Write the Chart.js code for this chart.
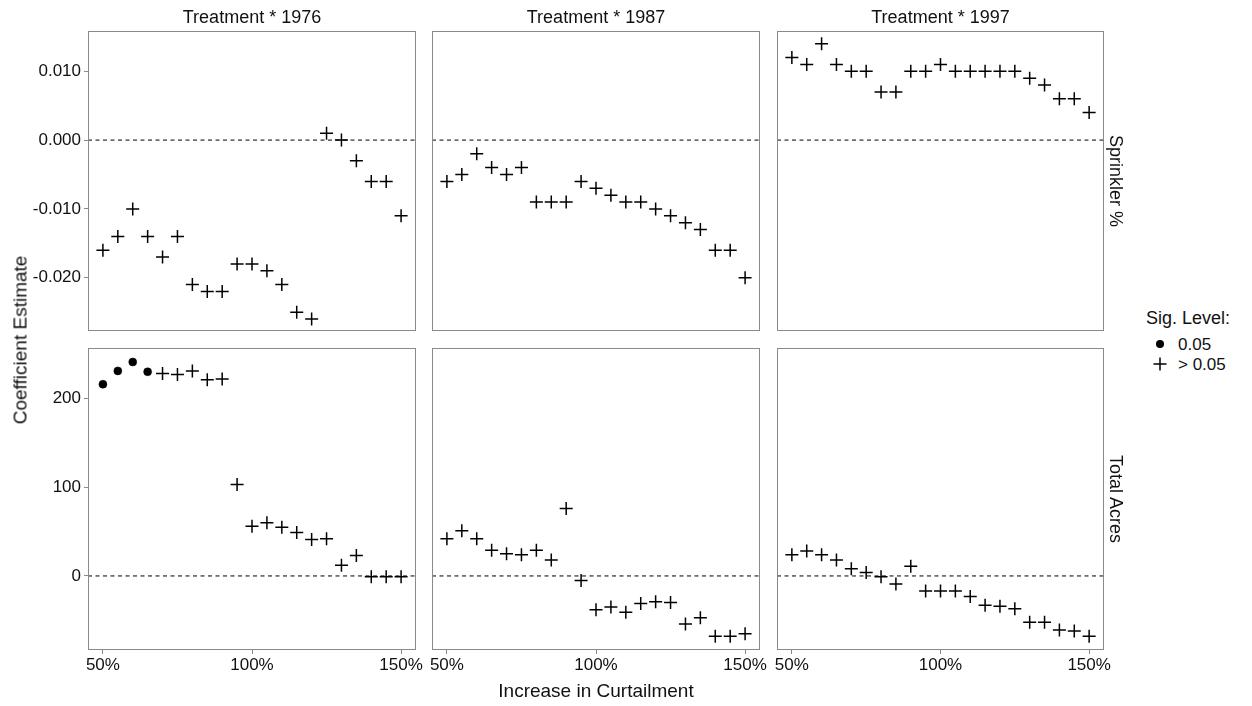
<!DOCTYPE html>
<html><head><meta charset="utf-8">
<script src="https://cdn.jsdelivr.net/npm/chart.js@4.4.1/dist/chart.umd.min.js"></script>
<style>
html,body{margin:0;padding:0;background:#fff;}
#wrap{position:relative;width:1252px;height:706px;overflow:hidden;font-family:"Liberation Sans",Arial,sans-serif;color:#111;}
canvas{position:absolute;}
.t{position:absolute;white-space:nowrap;transform:translate(-50%,-50%);line-height:1;}
.l{position:absolute;white-space:nowrap;transform:translateY(-50%);line-height:1;}
</style></head><body><div id="wrap"></div>
<script>
// ---------- data ----------
const curtailment = [50,55,60,65,70,75,80,85,90,95,100,105,110,115,120,125,130,135,140,145,150];
const treatmentYears = ['1976','1987','1997'];
const outcomes = ['Sprinkler %','Total Acres'];
const sprinkler1976 = [-0.016,-0.014,-0.010,-0.014,-0.017,-0.014,-0.021,-0.022,-0.022,-0.018,-0.018,-0.019,-0.021,-0.025,-0.026,0.001,0.000,-0.003,-0.006,-0.006,-0.011];
const sprinkler1987 = [-0.006,-0.005,-0.002,-0.004,-0.005,-0.004,-0.009,-0.009,-0.009,-0.006,-0.007,-0.008,-0.009,-0.009,-0.010,-0.011,-0.012,-0.013,-0.016,-0.016,-0.020];
const sprinkler1997 = [0.012,0.011,0.014,0.011,0.010,0.010,0.007,0.007,0.010,0.010,0.011,0.010,0.010,0.010,0.010,0.010,0.009,0.008,0.006,0.006,0.004];
const acres1976 = [216,231,241,230,228,227,231,221,222,103,56,60,55,49,41,42,12,23,-1,-1,-1];
const acres1987 = [42,51,42,29,25,24,29,18,76,-5,-38,-35,-41,-31,-29,-30,-54,-47,-68,-68,-65];
const acres1997 = [24,28,24,18,8,4,-1,-9,11,-17,-17,-17,-23,-33,-34,-37,-52,-52,-61,-62,-68];
const S = '0.05', N = '> 0.05';
const sigSprinkler1976 = [N,N,N,N,N,N,N,N,N,N,N,N,N,N,N,N,N,N,N,N,N];
const sigSprinkler1987 = [N,N,N,N,N,N,N,N,N,N,N,N,N,N,N,N,N,N,N,N,N];
const sigSprinkler1997 = [N,N,N,N,N,N,N,N,N,N,N,N,N,N,N,N,N,N,N,N,N];
const sigAcres1976 = [S,S,S,S,N,N,N,N,N,N,N,N,N,N,N,N,N,N,N,N,N];
const sigAcres1987 = [N,N,N,N,N,N,N,N,N,N,N,N,N,N,N,N,N,N,N,N,N];
const sigAcres1997 = [N,N,N,N,N,N,N,N,N,N,N,N,N,N,N,N,N,N,N,N,N];
const xTicks = [50,100,150];
const sprinklerTicks = [-0.020,-0.010,0.000,0.010];
const acresTicks = [0,100,200];

// ---------- layout ----------
const FONT = '"Liberation Sans", Arial, sans-serif';
const TXT = '#111';
const BORDER = '#8a8a8a';
const colLeft = [88,432,777];
const colWidth = [328,328,327];
const rowTop = [31,348];
const rowHeight = [300,302];
const xRange = {min:45,max:155};
const yRanges = [{min:-0.02774,max:0.01585},{min:-83.4,max:256.8}];
const PAD = 24, VPAD = 16;

const wrap = document.getElementById('wrap');
const framePlugin = {
  id:'frame',
  afterDraw(chart){
    const {ctx, chartArea:a} = chart;
    ctx.save();
    ctx.strokeStyle = BORDER; ctx.lineWidth = 1;
    ctx.strokeRect(a.left+0.5, a.top+0.5, a.right-a.left-1, a.bottom-a.top-1);
    ctx.restore();
  }
};

const rowData = [
  [sprinkler1976, sprinkler1987, sprinkler1997],
  [acres1976, acres1987, acres1997]
];
const rowSig = [
  [sigSprinkler1976, sigSprinkler1987, sigSprinkler1997],
  [sigAcres1976, sigAcres1987, sigAcres1997]
];
const rowTicks = [sprinklerTicks, acresTicks];

function fmtY(r, v){
  if (Math.abs(v) < 1e-12) v = 0;
  return r === 0 ? v.toFixed(3) : String(Math.round(v));
}

for (let r = 0; r < 2; r++) {
  for (let c = 0; c < 3; c++) {
    const isLeft = c === 0, isBottom = r === 1;
    const canvas = document.createElement('canvas');
    const cLeft = isLeft ? 0 : colLeft[c] - PAD;
    const cWidth = isLeft ? colLeft[0] + colWidth[0] + PAD : colWidth[c] + 2*PAD;
    const cTop = rowTop[r] - VPAD;
    const cHeight = VPAD + rowHeight[r] + (isBottom ? 30 : VPAD);
    canvas.width = cWidth; canvas.height = cHeight;
    canvas.style.left = cLeft + 'px'; canvas.style.top = cTop + 'px';
    canvas.style.width = cWidth + 'px'; canvas.style.height = cHeight + 'px';
    wrap.appendChild(canvas);
    const vals = rowData[r][c], sig = rowSig[r][c];
    const ticksWanted = rowTicks[r];
    new Chart(canvas, {
      type:'scatter',
      data:{datasets:[
        {type:'line', data:[{x:xRange.min,y:0},{x:xRange.max,y:0}], borderColor:'#000', borderWidth:1,
         borderDash:[4,3.5], pointRadius:0, fill:false, order:2},
        {data: curtailment.map((x,i)=>({x, y: vals[i]})),
         pointStyle: ctx => sig[ctx.dataIndex] === S ? 'circle' : 'cross',
         pointRadius: ctx => sig[ctx.dataIndex] === S ? 4 : 6.5,
         backgroundColor:'#000', borderColor:'#000',
         borderWidth: ctx => sig[ctx.dataIndex] === S ? 0.5 : 1.5, order:1}
      ]},
      options:{
        responsive:false, animation:false, devicePixelRatio:1,
        layout:{padding:{left: isLeft ? 0 : PAD, right: PAD, top:VPAD, bottom: isBottom ? 0 : VPAD}},
        plugins:{legend:{display:false}, tooltip:{enabled:false}},
        scales:{
          x:{type:'linear', min:xRange.min, max:xRange.max, display:isBottom,
             afterFit: s => { if (isBottom) s.height = 30; },
             afterBuildTicks: s => { s.ticks = xTicks.map(v=>({value:v})); },
             ticks:{callback: v => v + '%', font:{family:FONT,size:17}, color:TXT, padding:1, maxRotation:0, autoSkip:false},
             grid:{drawOnChartArea:false, drawTicks:true, tickLength:4, color:BORDER},
             border:{display:false}},
          y:{type:'linear', min:yRanges[r].min, max:yRanges[r].max, display:isLeft,
             afterFit: s => { if (isLeft) s.width = colLeft[0]; },
             afterBuildTicks: s => { s.ticks = ticksWanted.map(v=>({value:v})); },
             ticks:{callback: v => fmtY(r, v), font:{family:FONT,size:17}, color:TXT, padding:3, autoSkip:false},
             grid:{drawOnChartArea:false, drawTicks:true, tickLength:4, color:BORDER},
             border:{display:false}}
        }
      },
      plugins:[framePlugin]
    });
  }
}

// ---------- text ----------
function addText(txt, x, y, size, cls, rot){
  const d = document.createElement('div');
  d.className = cls || 't';
  d.textContent = txt;
  d.style.left = x + 'px'; d.style.top = y + 'px'; d.style.fontSize = size + 'px';
  if (rot) d.style.transform = 'translate(-50%,-50%) rotate(' + rot + 'deg)';
  wrap.appendChild(d);
}
for (let c = 0; c < 3; c++) addText('Treatment * ' + treatmentYears[c], colLeft[c] + colWidth[c]/2, 17, 18);
for (let r = 0; r < 2; r++) addText(outcomes[r], 1116, rowTop[r] + rowHeight[r]/2, 18, 't', 90);
addText('Coefficient Estimate', 20, 340, 19, 't', -90);
addText('Increase in Curtailment', 596, 690, 19);
addText('Sig. Level:', 1146, 318, 18, 'l');
addText(S, 1178, 344, 17, 'l');
addText(N, 1178, 364, 17, 'l');
// legend keys
const svgNS = 'http://www.w3.org/2000/svg';
const key = document.createElementNS(svgNS, 'svg');
key.setAttribute('width','30'); key.setAttribute('height','40');
key.style.position='absolute'; key.style.left='1145px'; key.style.top='334px';
key.innerHTML = '<circle cx="15" cy="10" r="4" fill="#000"/>' +
  '<line x1="8.5" y1="30" x2="21.5" y2="30" stroke="#000" stroke-width="1.5"/>' +
  '<line x1="15" y1="23.5" x2="15" y2="36.5" stroke="#000" stroke-width="1.5"/>';
wrap.appendChild(key);
</script>
</body></html>
